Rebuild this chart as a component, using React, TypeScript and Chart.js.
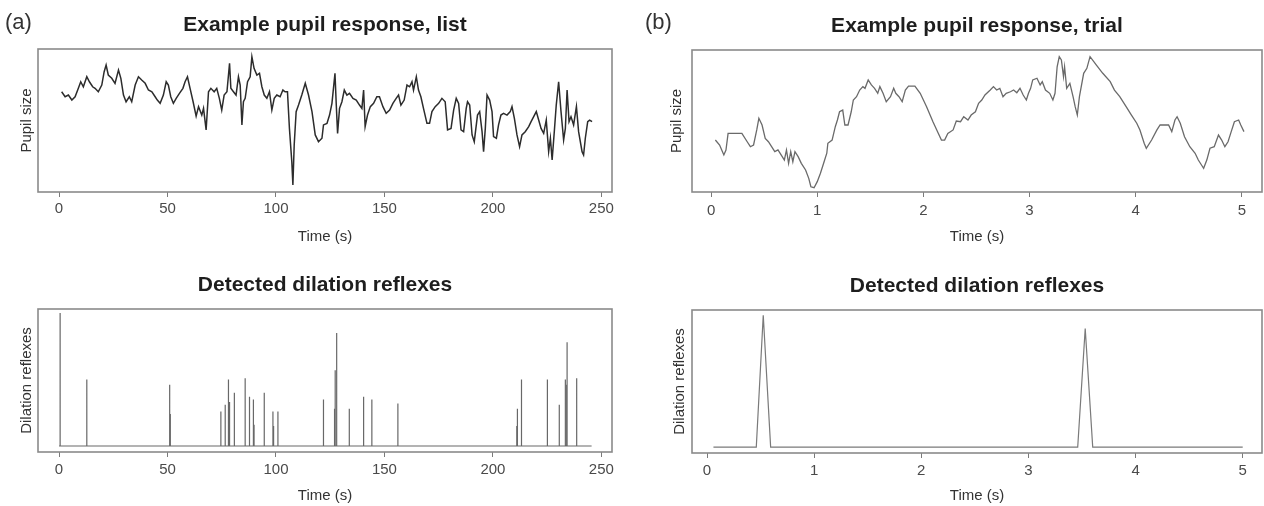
import React, { useEffect, useRef } from "react";
import { Chart, registerables } from "chart.js";

Chart.register(...registerables);
Chart.defaults.font.family = '"Liberation Sans", Arial, Helvetica, sans-serif';

// ---------- (a) Example pupil response, list ----------
const pupilTimeA = [
  1.2, 2.8, 4.3, 5.9, 7.4, 8.9, 10.0, 11.2, 12.8, 14.0,
  15.5, 16.6, 18.1, 19.7, 20.8, 21.7, 22.7, 24.3, 25.8, 27.4,
  28.5, 29.7, 30.9, 32.4, 33.5, 35.1, 36.6, 38.1, 39.7, 41.2,
  42.8, 44.3, 45.3, 46.6, 48.1, 49.4, 50.4, 51.5, 52.7, 54.0,
  55.5, 57.1, 58.1, 59.2, 60.4, 61.8, 63.2, 64.3, 65.8, 66.6,
  67.8, 68.9, 70.0, 71.5, 72.7, 73.9, 75.0, 76.1, 77.4, 78.6,
  79.2, 80.4, 81.6, 82.7, 83.5, 84.3, 85.0, 85.8, 86.9, 88.1,
  88.9, 89.9, 91.2, 92.4, 93.5, 94.6, 95.8, 97.0, 98.1, 99.2,
  100.4, 101.9, 103.2, 104.2, 105.3, 106.2, 107.3, 107.8, 108.4, 109.3,
  110.4, 111.9, 113.5, 115.0, 116.6, 118.1, 119.6, 121.2, 121.9, 123.5,
  124.7, 125.8, 127.2, 127.8, 128.4, 129.3, 130.4, 131.5, 132.7, 133.9,
  135.5, 137.0, 138.5, 139.6, 140.4, 141.1, 142.2, 143.5, 145.0, 146.5,
  147.7, 149.3, 150.8, 152.4, 153.9, 155.4, 156.5, 157.6, 159.1, 160.4,
  161.6, 162.7, 163.4, 164.7, 165.7, 166.8, 168.0, 169.6, 170.8, 171.9,
  173.4, 175.0, 176.5, 178.0, 179.1, 180.7, 181.9, 183.1, 184.2, 185.3,
  186.5, 187.7, 188.3, 189.3, 190.4, 191.4, 192.9, 193.9, 195.0, 195.7,
  196.5, 197.3, 198.5, 199.6, 200.3, 201.6, 202.6, 203.7, 204.9, 206.5,
  208.0, 208.8, 209.9, 211.1, 212.3, 213.4, 214.9, 216.5, 217.6, 218.8,
  220.0, 221.1, 222.2, 223.4, 224.6, 225.7, 226.5, 227.3, 228.3, 229.2,
  230.3, 231.4, 232.6, 233.4, 234.2, 235.1, 236.0, 237.2, 238.5, 239.5,
  241.1, 241.8, 242.6, 243.7, 244.6, 245.7,
];
const pupilSizeA = [
  70.1, 66.6, 67.8, 64.3, 66.6, 72.5, 77.1, 73.6, 80.6, 77.1,
  73.6, 72.5, 70.1, 74.8, 84.1, 88.8, 81.8, 79.5, 76.0, 85.3,
  79.5, 67.8, 63.1, 66.6, 63.1, 74.8, 80.6, 78.3, 76.0, 71.3,
  70.1, 66.6, 64.3, 62.0, 67.8, 77.1, 74.8, 66.6, 62.0, 65.5,
  69.0, 72.5, 77.1, 80.6, 72.5, 63.1, 53.1, 59.7, 53.8, 58.5,
  43.4, 70.1, 72.5, 70.1, 72.5, 65.5, 57.3, 67.8, 70.1, 90.0,
  72.5, 70.1, 67.8, 80.6, 74.8, 46.9, 63.1, 65.5, 77.1, 80.6,
  94.6, 86.5, 81.8, 83.0, 73.6, 67.8, 65.5, 70.1, 57.3, 65.5,
  67.8, 66.6, 71.3, 70.1, 70.1, 44.5, 21.2, 4.9, 32.9, 56.2,
  60.8, 67.8, 76.0, 67.8, 56.2, 39.9, 35.2, 37.6, 46.9, 48.0,
  53.8, 62.0, 83.0, 60.8, 41.0, 58.5, 63.1, 71.3, 67.8, 69.0,
  65.5, 64.3, 60.8, 58.5, 71.3, 45.7, 53.8, 59.7, 62.0, 66.6,
  66.6, 59.7, 55.0, 57.3, 62.0, 65.5, 67.8, 60.8, 64.3, 74.8,
  73.6, 77.1, 71.3, 80.6, 71.3, 66.6, 58.5, 48.0, 48.0, 56.2,
  59.7, 62.0, 65.5, 63.1, 43.4, 44.5, 57.3, 65.5, 62.0, 43.4,
  42.2, 58.5, 63.1, 60.8, 39.9, 35.2, 53.8, 56.2, 42.2, 28.2,
  44.5, 67.8, 64.3, 56.2, 38.7, 37.6, 46.9, 53.8, 55.0, 53.8,
  56.2, 59.7, 51.5, 39.9, 31.7, 39.9, 42.2, 45.7, 49.2, 52.7,
  56.2, 50.3, 44.5, 41.0, 50.3, 28.2, 37.6, 22.4, 42.2, 60.8,
  77.1, 56.2, 36.4, 44.5, 71.3, 49.2, 52.7, 46.9, 59.7, 42.2,
  28.2, 25.9, 37.6, 49.2, 50.3, 49.2,
];

// ---------- (b) Example pupil response, trial ----------
const pupilTimeB = [
  0.04, 0.08, 0.10, 0.12, 0.14, 0.16, 0.29, 0.34, 0.37, 0.40,
  0.43, 0.45, 0.48, 0.51, 0.54, 0.57, 0.60, 0.63, 0.67, 0.69,
  0.71, 0.73, 0.75, 0.77, 0.79, 0.82, 0.85, 0.89, 0.92, 0.94,
  0.97, 1.00, 1.03, 1.06, 1.09, 1.10, 1.14, 1.17, 1.19, 1.21,
  1.24, 1.26, 1.29, 1.32, 1.34, 1.37, 1.40, 1.43, 1.45, 1.48,
  1.51, 1.54, 1.57, 1.59, 1.62, 1.65, 1.69, 1.72, 1.74, 1.77,
  1.80, 1.83, 1.86, 1.92, 1.97, 2.03, 2.09, 2.14, 2.17, 2.20,
  2.23, 2.28, 2.31, 2.35, 2.38, 2.42, 2.45, 2.49, 2.52, 2.55,
  2.58, 2.63, 2.66, 2.69, 2.72, 2.75, 2.78, 2.82, 2.85, 2.88,
  2.91, 2.94, 2.97, 2.99, 3.01, 3.03, 3.07, 3.10, 3.12, 3.15,
  3.19, 3.22, 3.24, 3.26, 3.28, 3.30, 3.32, 3.33, 3.35, 3.38,
  3.41, 3.43, 3.45, 3.47, 3.51, 3.54, 3.57, 3.63, 3.69, 3.76,
  3.80, 3.85, 3.91, 3.96, 4.01, 4.04, 4.08, 4.10, 4.15, 4.20,
  4.23, 4.31, 4.34, 4.37, 4.39, 4.42, 4.46, 4.51, 4.56, 4.59,
  4.62, 4.64, 4.67, 4.70, 4.74, 4.78, 4.81, 4.84, 4.87, 4.90,
  4.93, 4.97, 4.99, 5.02,
];
const pupilSizeB = [
  36.6, 33.1, 29.6, 26.1, 29.6, 41.3, 41.3, 35.4, 31.9, 33.1,
  43.7, 51.9, 47.2, 37.8, 35.4, 31.9, 28.4, 29.6, 24.9, 22.5,
  29.6, 20.2, 28.4, 21.3, 28.4, 24.9, 20.2, 15.5, 9.6, 3.7,
  3.0, 7.3, 13.2, 20.2, 27.3, 34.3, 36.6, 46.0, 50.7, 56.5,
  57.7, 47.2, 47.2, 56.5, 64.8, 67.1, 71.8, 74.2, 73.0, 78.9,
  75.4, 73.0, 69.5, 74.2, 69.5, 63.6, 67.1, 73.0, 69.5, 67.1,
  63.6, 71.8, 74.6, 74.6, 69.5, 60.1, 49.5, 41.3, 36.6, 36.6,
  41.3, 43.7, 50.0, 49.5, 53.0, 50.7, 54.2, 56.5, 62.5, 64.8,
  68.3, 71.8, 74.2, 71.8, 73.0, 67.1, 69.5, 70.6, 71.8, 69.9,
  73.0, 68.3, 64.8, 69.5, 73.0, 78.9, 80.1, 75.4, 77.7, 71.8,
  69.5, 64.8, 69.5, 88.2, 95.3, 93.0, 81.2, 88.2, 73.0, 76.5,
  67.1, 60.1, 54.2, 67.1, 83.6, 87.1, 95.3, 89.4, 83.6, 77.7,
  71.8, 67.1, 60.1, 54.2, 48.4, 43.7, 34.3, 30.8, 36.6, 43.7,
  47.2, 47.2, 42.5, 50.7, 53.0, 48.4, 38.9, 31.9, 27.3, 22.5,
  19.0, 16.7, 22.5, 30.8, 31.9, 40.1, 36.6, 31.9, 35.4, 42.5,
  49.5, 50.7, 47.2, 42.5,
];

// ---------- (a) Detected dilation reflexes ----------
const reflexRangeA = [0, 245.5];
const reflexTimeA = [
  0.5, 12.8, 51.0, 51.3, 74.6, 76.6, 78.1, 78.6, 80.7, 80.9,
  85.8, 87.8, 89.6, 89.9, 94.6, 98.6, 98.9, 100.9, 121.9, 127.0,
  127.3, 127.8, 128.1, 133.8, 140.4, 144.2, 156.2, 211.0, 211.3, 213.0,
  213.3, 225.0, 225.2, 230.6, 233.4, 234.0, 234.2, 238.5, 238.7,
];
const reflexHeightA = [
  1.0, 0.50, 0.46, 0.24, 0.26, 0.31, 0.50, 0.33, 0.40, 0.20,
  0.51, 0.37, 0.35, 0.16, 0.40, 0.26, 0.15, 0.26, 0.35, 0.28,
  0.57, 0.85, 0.41, 0.28, 0.37, 0.35, 0.32, 0.15, 0.28, 0.50,
  0.22, 0.50, 0.22, 0.31, 0.50, 0.46, 0.78, 0.51, 0.26,
];

// ---------- (b) Detected dilation reflexes ----------
const reflexTimeB = [0.06, 0.46, 0.525, 0.594, 3.46, 3.53, 3.6, 5.0];
const reflexValueB = [0, 0, 1.0, 0, 0, 0.9, 0, 0];

// ---------- tick labels ----------
const ticksListA = [0, 50, 100, 150, 200, 250];
const ticksTrialB = [0, 1, 2, 3, 4, 5];

const xy = (xs: number[], ys: number[]) => xs.map((x, i) => ({ x, y: ys[i] }));

const spikePoints = () => {
  const pts: { x: number; y: number }[] = [{ x: reflexRangeA[0], y: 0 }];
  reflexTimeA.forEach((t, i) => {
    pts.push({ x: t, y: 0 }, { x: t, y: reflexHeightA[i] }, { x: t, y: 0 });
  });
  pts.push({ x: reflexRangeA[1], y: 0 });
  return pts;
};

const boxPlugin = {
  id: "rbox",
  afterDatasetsDraw(chart: any) {
    const { ctx, chartArea } = chart;
    const { left, top, right, bottom } = chartArea;
    ctx.save();
    ctx.strokeStyle = "#8a8a8a";
    ctx.lineWidth = 1.6;
    ctx.strokeRect(left, top, right - left, bottom - top);
    ctx.restore();
  },
};

type P = {
  points: { x: number; y: number }[];
  color: string;
  lineWidth: number;
  title: string;
  titleTop: number;
  titleBottom: number;
  xMin: number;
  xMax: number;
  ticks: number[];
  xHeight: number;
  tickPad: number;
  xTitleBottom: number;
  yMin: number;
  yMax: number;
  yTitle: string;
  yWidth: number;
  yTitlePad: number;
};

function makeConfig(p: P): any {
  return {
    type: "line",
    data: {
      datasets: [
        {
          data: p.points,
          borderColor: p.color,
          borderWidth: p.lineWidth,
          pointRadius: 0,
          tension: 0,
          fill: false,
        },
      ],
    },
    options: {
      responsive: false,
      animation: false,
      events: [],
      layout: { padding: 0 },
      plugins: {
        legend: { display: false },
        tooltip: { enabled: false },
        title: {
          display: true,
          text: p.title,
          color: "#1e1e1e",
          font: { size: 21, weight: "bold" },
          padding: { top: p.titleTop, bottom: p.titleBottom },
        },
      },
      scales: {
        x: {
          type: "linear",
          min: p.xMin,
          max: p.xMax,
          afterBuildTicks: (s: any) => {
            s.ticks = p.ticks.map((v) => ({ value: v }));
          },
          afterFit: (s: any) => {
            s.height = p.xHeight;
          },
          ticks: {
            color: "#4a4a4a",
            font: { size: 15 },
            padding: p.tickPad,
            maxRotation: 0,
            autoSkip: false,
            callback: (v: any) => String(v),
          },
          grid: {
            display: true,
            drawOnChartArea: false,
            drawTicks: true,
            tickLength: 5,
            color: "#7a7a7a",
            lineWidth: 1,
          },
          border: { display: false },
          title: {
            display: true,
            text: "Time (s)",
            color: "#333333",
            font: { size: 15 },
            padding: { top: 0, bottom: p.xTitleBottom },
          },
        },
        y: {
          type: "linear",
          position: "left",
          min: p.yMin,
          max: p.yMax,
          afterFit: (s: any) => {
            s.width = p.yWidth;
          },
          ticks: { display: false },
          grid: { display: false },
          border: { display: false },
          title: {
            display: true,
            text: p.yTitle,
            color: "#333333",
            font: { size: 15 },
            padding: { top: p.yTitlePad, bottom: 0 },
          },
        },
        yR: {
          type: "linear",
          position: "right",
          display: true,
          afterFit: (s: any) => {
            s.width = p.yWidth;
          },
          ticks: { display: false },
          grid: { display: false },
          border: { display: false },
        },
      },
    },
    plugins: [boxPlugin],
  };
}

function Panel(props: { left: number; top: number; width: number; height: number; cfg: P }) {
  const ref = useRef<HTMLCanvasElement | null>(null);
  useEffect(() => {
    if (!ref.current) return;
    const chart = new Chart(ref.current, makeConfig(props.cfg));
    return () => chart.destroy();
  }, []);
  return (
    <canvas
      ref={ref}
      width={props.width}
      height={props.height}
      style={{
        position: "absolute",
        left: props.left,
        top: props.top,
        width: props.width,
        height: props.height,
        display: "block",
      }}
    />
  );
}

const labelStyle = (left: number): React.CSSProperties => ({
  position: "absolute",
  left,
  top: 9,
  fontFamily: '"Liberation Sans", Arial, sans-serif',
  fontSize: 22,
  lineHeight: "26px",
  color: "#333",
});

export default function App() {
  useEffect(() => {
    document.body.style.margin = "0";
  }, []);

  const topA: P = {
    points: xy(pupilTimeA, pupilSizeA),
    color: "#2c2c2c",
    lineWidth: 1.5,
    title: "Example pupil response, list",
    titleTop: 12.4,
    titleBottom: 11.4,
    xMin: -9.7,
    xMax: 254.9,
    ticks: ticksListA,
    xHeight: 61,
    tickPad: 3,
    xTitleBottom: 7,
    yMin: 0,
    yMax: 100,
    yTitle: "Pupil size",
    yWidth: 38,
    yTitlePad: 18,
  };
  const topB: P = {
    points: xy(pupilTimeB, pupilSizeB),
    color: "#6a6a6a",
    lineWidth: 1.3,
    title: "Example pupil response, trial",
    titleTop: 13.4,
    titleBottom: 11.4,
    xMin: -0.18,
    xMax: 5.19,
    ticks: ticksTrialB,
    xHeight: 61,
    tickPad: 5,
    xTitleBottom: 7,
    yMin: 0,
    yMax: 100,
    yTitle: "Pupil size",
    yWidth: 40,
    yTitlePad: 16,
  };
  const botA: P = {
    points: spikePoints(),
    color: "#686868",
    lineWidth: 1.2,
    title: "Detected dilation reflexes",
    titleTop: 19.4,
    titleBottom: 11.4,
    xMin: -9.7,
    xMax: 254.9,
    ticks: ticksListA,
    xHeight: 54,
    tickPad: 4,
    xTitleBottom: 1,
    yMin: -0.045,
    yMax: 1.03,
    yTitle: "Dilation reflexes",
    yWidth: 38,
    yTitlePad: 18,
  };
  const botB: P = {
    points: xy(reflexTimeB, reflexValueB),
    color: "#7a7a7a",
    lineWidth: 1.2,
    title: "Detected dilation reflexes",
    titleTop: 20.4,
    titleBottom: 11.4,
    xMin: -0.14,
    xMax: 5.18,
    ticks: ticksTrialB,
    xHeight: 53,
    tickPad: 4,
    xTitleBottom: 1,
    yMin: -0.045,
    yMax: 1.04,
    yTitle: "Dilation reflexes",
    yWidth: 40,
    yTitlePad: 19,
  };

  return (
    <div
      style={{
        position: "fixed",
        left: 0,
        top: 0,
        width: 1264,
        height: 506,
        overflow: "hidden",
        background: "#ffffff",
      }}
    >
      <Panel left={0} top={0} width={650} height={253} cfg={topA} />
      <Panel left={652} top={0} width={650} height={253} cfg={topB} />
      <Panel left={0} top={253} width={650} height={253} cfg={botA} />
      <Panel left={652} top={253} width={650} height={253} cfg={botB} />
      <span style={labelStyle(5)}>(a)</span>
      <span style={labelStyle(645)}>(b)</span>
    </div>
  );
}
